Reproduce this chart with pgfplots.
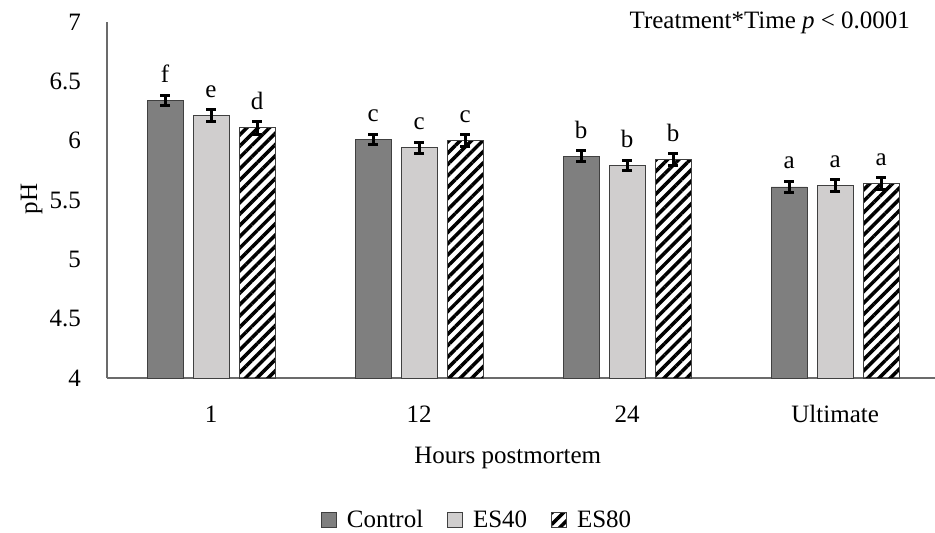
\documentclass[border=0pt]{standalone}
\usepackage{fontspec}
\setmainfont{Liberation Serif}
\usepackage{pgfplots}
\usepackage{pgfplotstable}
\pgfplotsset{compat=1.18}
\usetikzlibrary{patterns.meta}

\definecolor{ctrl}{HTML}{7F7F7F}
\definecolor{es40}{HTML}{D0CECE}
\definecolor{axgray}{HTML}{6B6B6B}
\definecolor{edge}{HTML}{404040}

\pgfplotstableread{
x y e lab
0 6.34 0.040 f
1 6.01 0.045 c
2 5.87 0.045 b
3 5.61 0.045 a
}\control
\pgfplotstableread{
x y e lab
0 6.21 0.050 e
1 5.94 0.045 c
2 5.79 0.045 b
3 5.62 0.050 a
}\esforty
\pgfplotstableread{
x y e lab
0 6.11 0.055 d
1 6.00 0.053 c
2 5.84 0.053 b
3 5.64 0.050 a
}\eseighty

\begin{document}
\begin{tikzpicture}[font=\fontsize{25}{29}\selectfont]
\begin{axis}[name=ax,
    scale only axis, width=828pt, height=356pt, clip=false,
    ybar=10pt, bar width=36pt,
    xmin=-0.5, xmax=3.48, ymin=4, ymax=7,
    xtick={0,1,2,3}, xticklabels={1,12,24,Ultimate},
    ytick={4,4.5,...,7},
    /pgf/number format/assume math mode=true,
    axis x line*=bottom, axis y line*=left,
    axis line style={axgray, line width=1.2pt, -},
    major tick length=0pt,
    xticklabel style={anchor=base, inner sep=0pt, yshift=-44pt},
    yticklabel style={anchor=east, inner sep=0pt, xshift=-26pt},
    xlabel={Hours postmortem},
    xlabel style={at={(axis description cs:0.484,-0.239)}, anchor=base},
    ylabel={pH},
    ylabel style={at={(axis description cs:-0.091,0.503)}, anchor=center},
    error bars/y dir=both, error bars/y explicit,
    error bars/error bar style={black, line width=3pt},
    error bars/error mark options={rotate=90, black, line width=3pt, mark size=5pt},
    point meta=explicit symbolic,
    nodes near coords,
    every node near coord/.append style={anchor=base, inner sep=0pt, yshift=18pt, black,
        font=\fontsize{25}{29}\selectfont},
    legend columns=3,
    legend style={draw=none, fill=none, at={(axis description cs:0.447,-0.399)}, anchor=center,
        /tikz/every odd column/.append style={column sep=8pt},
        /tikz/every even column/.append style={column sep=22pt}},
    legend image code/.code={\draw[#1, draw=edge, line width=0.8pt] (0pt,-7.5pt) rectangle (15pt,7.5pt);},
]
\addplot[fill=ctrl, draw=edge, line width=0.8pt] table[x=x, y=y, y error=e, meta=lab] {\control};
\addplot[fill=es40, draw=edge, line width=0.8pt] table[x=x, y=y, y error=e, meta=lab] {\esforty};
\addplot[fill=white, pattern={Lines[angle=45, distance=8pt, line width=3.5pt]}, pattern color=black,
    draw=edge, line width=0.8pt] table[x=x, y=y, y error=e, meta=lab] {\eseighty};
\legend{Control, ES40, ES80}
\node[anchor=base east, inner sep=0pt] at (axis description cs:0.970,0.983) {Treatment*Time \textit{p} < 0.0001};
\end{axis}
\pgfresetboundingbox
\path ([shift={(-107pt,-155pt)}]ax.south west) rectangle ([shift={(0pt,22pt)}]ax.north east);
\end{tikzpicture}
\end{document}
